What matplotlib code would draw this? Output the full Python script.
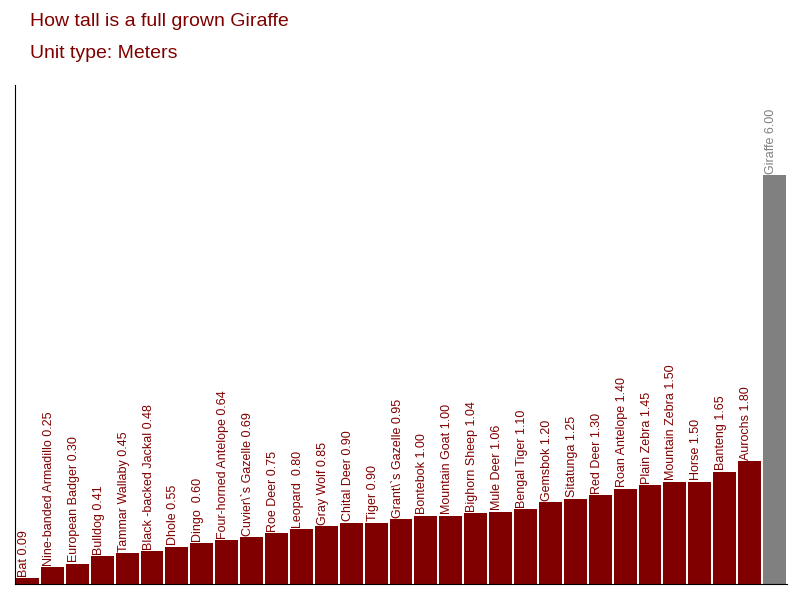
import matplotlib
matplotlib.use("Agg")
import matplotlib.pyplot as plt

names = ["Bat", "Nine-banded Armadillo", "European Badger", "Bulldog", "Tammar Wallaby",
         "Black -backed Jackal", "Dhole", "Dingo ", "Four-horned Antelope", "Cuvier\\`s Gazelle",
         "Roe Deer", "Leopard ", "Gray Wolf", "Chital Deer", "Tiger", "Grant\\`s Gazelle",
         "Bontebok", "Mountain Goat", "Bighorn Sheep", "Mule Deer", "Bengal Tiger", "Gemsbok",
         "Sitatunga", "Red Deer", "Roan Antelope", "Plain Zebra", "Mountain Zebra", "Horse",
         "Banteng", "Aurochs", "Giraffe"]
values = [0.09, 0.25, 0.30, 0.41, 0.45, 0.48, 0.55, 0.60, 0.64, 0.69, 0.75, 0.80, 0.85, 0.90,
          0.90, 0.95, 1.00, 1.00, 1.04, 1.06, 1.10, 1.20, 1.25, 1.30, 1.40, 1.45, 1.50, 1.50,
          1.65, 1.80, 6.00]

fig = plt.figure(figsize=(8, 6), dpi=100)
ax = fig.add_axes([15/800, 16/600, 772/800, 499/600])
colors = ["#808080" if n == "Giraffe" else "#800000" for n in names]
x = list(range(len(values)))
ax.bar(x, values, width=0.92, color=colors)
for i, (n, v) in enumerate(zip(names, values)):
    ax.text(i - 0.38, v + 0.02, f"{n} {v:.2f}", rotation=90, ha="left", va="bottom",
            fontsize=9, color="#808080" if n == "Giraffe" else "#800000",
            family="Liberation Sans")
ax.set_xlim(-0.5, len(values) - 0.5)
ax.set_ylim(0, 7.32)
ax.set_xticks([]); ax.set_yticks([])
for s in ["top", "right"]:
    ax.spines[s].set_visible(False)
fig.text(30/800, 1 - 22/600, "How tall is a full grown Giraffe", color="#800000",
         fontsize=14, va="center", family="Liberation Sans")
fig.text(30/800, 1 - 53/600, "Unit type: Meters", color="#800000",
         fontsize=14, va="center", family="Liberation Sans")
fig.savefig("out.png")
